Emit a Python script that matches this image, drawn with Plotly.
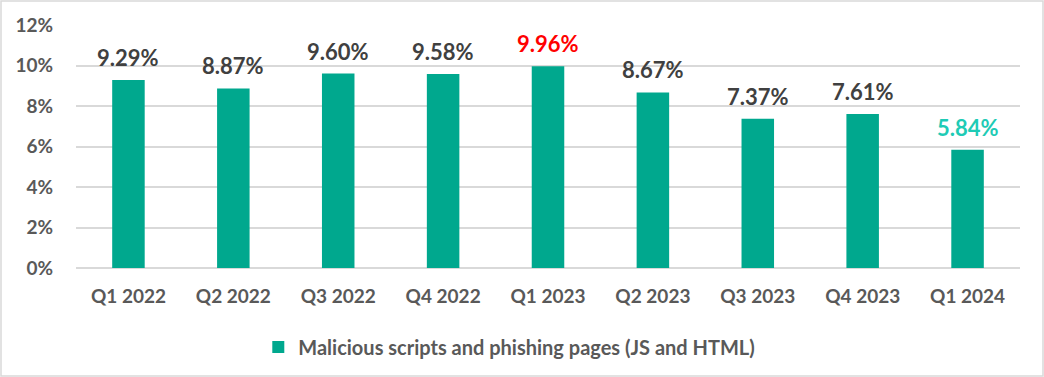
import plotly.graph_objects as go

categories = ["Q1 2022", "Q2 2022", "Q3 2022", "Q4 2022", "Q1 2023",
              "Q2 2023", "Q3 2023", "Q4 2023", "Q1 2024"]
values = [9.29, 8.87, 9.60, 9.58, 9.96, 8.67, 7.37, 7.61, 5.84]
label_colors = ["#404040", "#404040", "#404040", "#404040", "#FF0000",
                "#404040", "#404040", "#404040", "#1ECBB5"]
series_name = "Malicious scripts and phishing pages (JS and HTML)"
y_ticks = [0, 2, 4, 6, 8, 10, 12]

W, H = 1044, 377
ml, mr, mt, mb = 76, 24, 25, 109
pw, ph = W - ml - mr, H - mt - mb

fig = go.Figure()
fig.add_trace(go.Bar(
    x=categories, y=values, name=series_name,
    marker=dict(color="#00A88E", line=dict(width=0)),
))

for c, v, col in zip(categories, values, label_colors):
    fig.add_annotation(x=c, y=v, text=f"{v:.2f}%", showarrow=False,
                       yanchor="bottom", yshift=7,
                       font=dict(family="Lato", size=22, color=col, weight="bold"))

tf = dict(size=19, color="#595959", family="Lato", weight="bold")
lf = dict(size=20, color="#595959", family="Lato", weight="bold")
fig.update_layout(
    width=W, height=H,
    margin=dict(l=ml, r=mr, t=mt, b=mb, autoexpand=False),
    paper_bgcolor="white", plot_bgcolor="white",
    bargap=0.69,
    font=dict(family="Lato", color="#595959"),
    showlegend=True,
    legend=dict(orientation="h", x=0.459, xanchor="center", y=-0.245, yanchor="top",
                font=lf, itemsizing="constant", itemwidth=30),
    xaxis=dict(showgrid=False, showline=False, ticks="", tickfont=tf,
               ticklabelstandoff=15, automargin=False),
    yaxis=dict(range=[0, 12], tickvals=y_ticks,
               ticktext=[f"{t}%" for t in y_ticks],
               showgrid=True, gridcolor="#D9D9D9", gridwidth=1.5,
               zeroline=True, zerolinecolor="#D9D9D9", zerolinewidth=1.5,
               showline=False, ticks="", tickfont=tf,
               ticklabelstandoff=22, automargin=False),
    shapes=[dict(type="rect", xref="paper", yref="paper",
                 x0=-(ml - 1) / pw, x1=1 + (mr - 1) / pw,
                 y0=-(mb - 1) / ph, y1=1 + (mt - 1) / ph,
                 line=dict(color="#D9D9D9", width=1.5), layer="above")],
)

fig.write_html("out.html", config={"displayModeBar": False},
               post_script="document.body.style.margin='0';document.body.style.overflow='hidden';")
